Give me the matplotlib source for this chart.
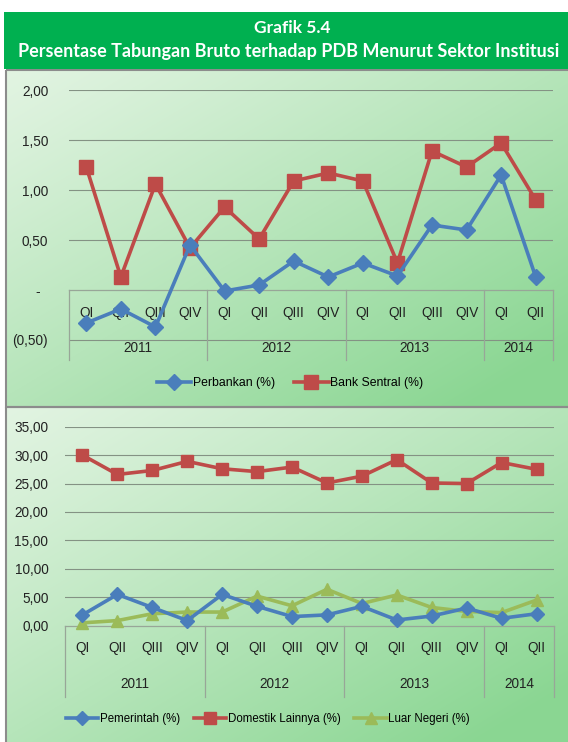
import numpy as np
import matplotlib
matplotlib.use('Agg')
import matplotlib.pyplot as plt
from matplotlib.patches import Rectangle

W, H = 568, 742

quarters = ['QI', 'QII', 'QIII', 'QIV', 'QI', 'QII', 'QIII', 'QIV',
            'QI', 'QII', 'QIII', 'QIV', 'QI', 'QII']
years = ['2011', '2012', '2013', '2014']
year_len = [4, 4, 4, 2]

# sektor keuangan (%)
perbankan = [-0.33, -0.19, -0.37, 0.45, -0.01, 0.05, 0.29, 0.13, 0.27, 0.14, 0.65, 0.60, 1.15, 0.13]
bank_sentral = [1.23, 0.13, 1.06, 0.42, 0.83, 0.51, 1.09, 1.17, 1.09, 0.27, 1.39, 1.23, 1.47, 0.90]

# sektor lainnya (%)
pemerintah = [1.9, 5.5, 3.2, 0.9, 5.5, 3.4, 1.6, 1.9, 3.4, 1.0, 1.7, 3.1, 1.3, 2.1]
domestik = [30.0, 26.6, 27.3, 28.9, 27.6, 27.1, 27.9, 25.1, 26.3, 29.2, 25.1, 25.0, 28.7, 27.5]
luar_negeri = [0.5, 0.9, 2.1, 2.4, 2.4, 5.2, 3.5, 6.4, 3.9, 5.4, 3.2, 2.5, 2.3, 4.5]

top_ticks = [-0.5, 0, 0.5, 1.0, 1.5, 2.0]
top_ticklabels = ['(0,50)', '-  ', '0,50', '1,00', '1,50', '2,00']
bot_ticks = [0, 5, 10, 15, 20, 25, 30, 35]
bot_ticklabels = [('%.2f' % v).replace('.', ',') for v in bot_ticks]

BLUE = '#4a7ebb'
RED = '#be4b48'
OLIVE = '#9bbb59'
GRID = '#849284'
BOX = '#98a698'
TXT = '#222222'
AX_FS = 9.8

plt.rcParams['font.family'] = ['Liberation Sans', 'DejaVu Sans']

fig = plt.figure(figsize=(W / 100, H / 100), dpi=100)
fig.patch.set_facecolor('white')


def px_axes(x0, y0, x1, y1):
    return [x0 / W, 1 - y1 / H, (x1 - x0) / W, (y1 - y0) / H]


# latar belakang, banner judul dan panel bergradasi
bg = fig.add_axes([0, 0, 1, 1])
bg.set_xlim(0, W)
bg.set_ylim(H, 0)
bg.axis('off')


def gradient_panel(x0, y0, x1, y1):
    h, w = int(y1 - y0), int(x1 - x0)
    xx, yy = np.meshgrid(np.linspace(0, 1, w), np.linspace(0, 1, h))
    t = np.clip(0.55 * xx + 0.55 * yy, 0, 1) ** 1.1
    light = np.array([226, 244, 226]) / 255
    dark = np.array([138, 214, 146]) / 255
    img = light[None, None, :] * (1 - t[..., None]) + dark[None, None, :] * t[..., None]
    bg.imshow(img, extent=(x0, x1, y1, y0), aspect='auto', zorder=0)
    bg.add_patch(Rectangle((x0, y0), x1 - x0, y1 - y0, fill=False,
                           edgecolor='#8c8c8c', lw=1.5, zorder=1))


gradient_panel(6, 70, W + 6, 407)
gradient_panel(6, 407, W + 6, H + 6)

bg.add_patch(Rectangle((4, 12), W, 57, facecolor='#00b050', edgecolor='none', zorder=2))
bg.text(292, 28, 'Grafik 5.4', color='white', fontsize=12.5, fontweight='bold',
        family='Lato', ha='center', va='center', zorder=3)
bg.text(289, 51, 'Persentase Tabungan Bruto terhadap PDB Menurut Sektor Institusi',
        color='white', fontsize=13, fontweight='bold', family='Lato',
        ha='center', va='center', zorder=3)


def style_axes(ax, ticks, labels, ylim, pad):
    ax.set_facecolor('none')
    for s in ax.spines.values():
        s.set_visible(False)
    ax.set_xlim(-0.5, len(quarters) - 0.5)
    ax.set_ylim(*ylim)
    ax.set_xticks([])
    ax.set_yticks(ticks)
    ax.set_yticklabels(labels)
    ax.tick_params(axis='y', length=0, pad=pad, labelsize=AX_FS, labelcolor=TXT)
    for v in ticks:
        if v != 0:
            ax.axhline(v, color=GRID, lw=0.8, zorder=1)


def category_box(ax, y_q, y_y, y_bottom):
    n = len(quarters)
    ax.plot([-0.5, n - 0.5], [0, 0], color=BOX, lw=0.9, zorder=1, clip_on=False)
    for i, q in enumerate(quarters):
        ax.text(i, y_q, q, ha='center', va='center', fontsize=AX_FS, color=TXT, zorder=2)
    start = -0.5
    ax.plot([start, start], [0, y_bottom], color=BOX, lw=0.9, zorder=1, clip_on=False)
    for yr, k in zip(years, year_len):
        end = start + k
        ax.text((start + end) / 2, y_y, yr, ha='center', va='center',
                fontsize=AX_FS, color=TXT, zorder=2)
        ax.plot([end, end], [0, y_bottom], color=BOX, lw=0.9, zorder=1, clip_on=False)
        start = end


x = np.arange(len(quarters))

# grafik atas: Perbankan dan Bank Sentral
ax1 = fig.add_axes(px_axes(69, 90, 553, 360))
style_axes(ax1, top_ticks, top_ticklabels, (-0.70, 2.0), 15)
category_box(ax1, -0.23, -0.58, -0.70)
ax1.plot(x, perbankan, color=BLUE, lw=2.6, marker='D', ms=8.5, zorder=4,
         label='Perbankan (%)')
ax1.plot(x, bank_sentral, color=RED, lw=2.6, marker='s', ms=9.5, zorder=3,
         label='Bank Sentral (%)')
ax1.legend(loc='center', bbox_to_anchor=(290 / W, 1 - 383 / H),
           bbox_transform=fig.transFigure, ncol=2, frameon=False,
           fontsize=8.8, handlelength=2.8, handletextpad=0.15, columnspacing=1.6)

# grafik bawah: Pemerintah, Domestik Lainnya, Luar Negeri
ax2 = fig.add_axes(px_axes(65, 426.7, 554, 696.7))
style_axes(ax2, bot_ticks, bot_ticklabels, (-12.49, 35), 12)
category_box(ax2, -3.9, -10.2, -12.49)
ax2.plot(x, domestik, color=RED, lw=2.6, marker='s', ms=9, zorder=3,
         label='Domestik Lainnya (%)')
ax2.plot(x, luar_negeri, color=OLIVE, lw=2.6, marker='^', ms=9, zorder=3,
         label='Luar Negeri (%)')
ax2.plot(x, pemerintah, color=BLUE, lw=2.6, marker='D', ms=7.5, zorder=4,
         label='Pemerintah (%)')
h, l = ax2.get_legend_handles_labels()
order = [2, 0, 1]
ax2.legend([h[i] for i in order], [l[i] for i in order], loc='center',
           bbox_to_anchor=(268 / W, 1 - 719 / H), bbox_transform=fig.transFigure,
           ncol=3, frameon=False, fontsize=8.3, handlelength=2.8,
           handletextpad=0.15, columnspacing=1.2)

fig.savefig('out.png', dpi=100)
